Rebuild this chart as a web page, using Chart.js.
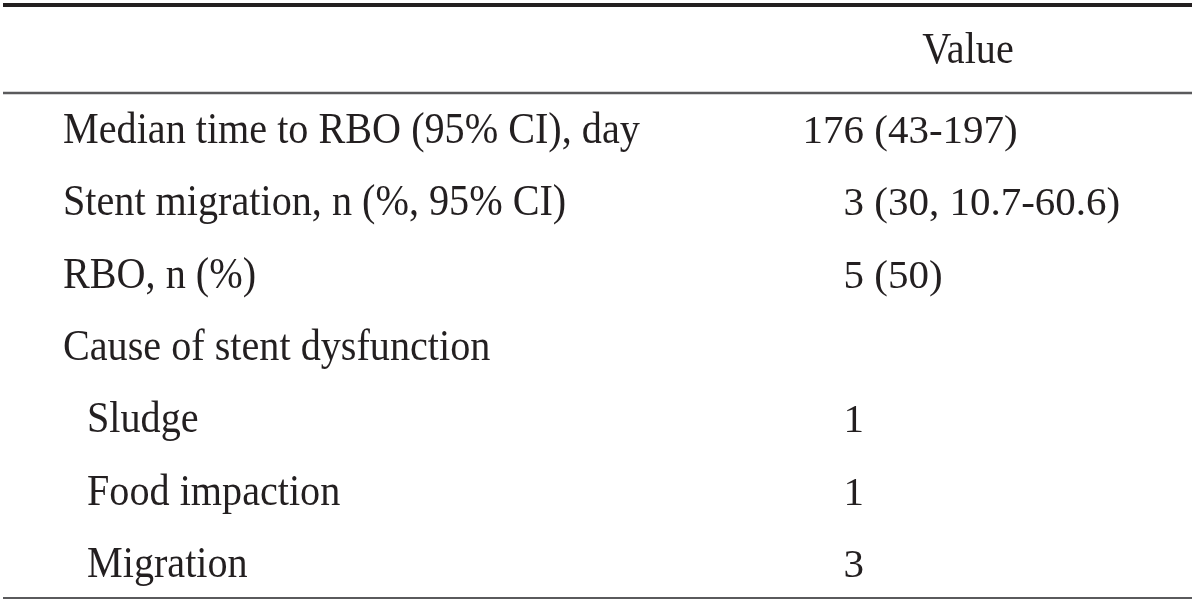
<!DOCTYPE html>
<html>
<head>
<meta charset="utf-8">
<script src="https://cdn.jsdelivr.net/npm/chart.js@4/dist/chart.umd.min.js"></script>
<style>
  html, body { margin: 0; padding: 0; background: #fff; }
  #wrap { width: 1200px; height: 607px; }
</style>
</head>
<body>
<div id="wrap"><canvas id="tableChart" width="1200" height="607"></canvas></div>
<script>
// table content
const columnHeader = 'Value';
const rowLabels = [
    'Median time to RBO (95% CI), day',
    'Stent migration, n (%, 95% CI)',
    'RBO, n (%)',
    'Cause of stent dysfunction',
    'Sludge',
    'Food impaction',
    'Migration'
];
const rowIndent = [0, 0, 0, 0, 1, 1, 1];
const rowValues = ['176 (43-197)', '3 (30, 10.7-60.6)', '5 (50)', '', '1', '1', '3'];

const TEXT = '#231f20';
const RULE = '#5a5a5c';
const LABEL_FONT = '44px "Liberation Serif", "Times New Roman", serif';
const VALUE_FONT = '41px "Liberation Serif", "Times New Roman", serif';
const SQUEEZE = 0.913; // labels are set in a condensed face

function narrowText(ctx, text, x, y, align) {
    ctx.save();
    ctx.translate(x, y);
    ctx.scale(SQUEEZE, 1);
    ctx.textAlign = align;
    ctx.fillText(text, 0, 0);
    ctx.restore();
}

// draws the rules, header and cells on top of the (invisible) scales
const tablePlugin = {
    id: 'tablePlugin',
    afterDraw(chart) {
        const ctx = chart.ctx;
        const x = chart.scales.x;
        const y = chart.scales.y;
        const area = chart.chartArea;
        const left = x.getPixelForValue(3);
        const right = x.getPixelForValue(1192);

        ctx.save();
        // rules
        ctx.strokeStyle = TEXT;
        ctx.lineWidth = 4;
        ctx.beginPath();
        ctx.moveTo(left, 5);
        ctx.lineTo(right, 5);
        ctx.stroke();

        ctx.strokeStyle = RULE;
        ctx.lineWidth = 2.5;
        ctx.beginPath();
        ctx.moveTo(left, area.top);
        ctx.lineTo(right, area.top);
        ctx.stroke();

        ctx.lineWidth = 2;
        ctx.beginPath();
        ctx.moveTo(left, area.bottom - 1);
        ctx.lineTo(right, area.bottom - 1);
        ctx.stroke();

        // header
        ctx.fillStyle = TEXT;
        ctx.textBaseline = 'alphabetic';
        ctx.font = LABEL_FONT;
        narrowText(ctx, columnHeader, x.getPixelForValue(968), area.top - 30, 'center');

        // rows
        const anchor = x.getPixelForValue(864);
        rowLabels.forEach((label, i) => {
            const base = y.getPixelForValue(i) + 14;
            ctx.font = LABEL_FONT;
            narrowText(ctx, label, x.getPixelForValue(63 + rowIndent[i] * 24), base, 'left');

            const val = rowValues[i];
            if (!val) return;
            const cut = val.indexOf(' ');
            const lead = cut < 0 ? val : val.slice(0, cut);
            const rest = cut < 0 ? '' : val.slice(cut);
            ctx.font = VALUE_FONT;
            ctx.textAlign = 'right';
            ctx.fillText(lead, anchor, base);
            if (rest) {
                ctx.textAlign = 'left';
                ctx.fillText(rest, anchor, base);
            }
        });
        ctx.restore();
    }
};

new Chart(document.getElementById('tableChart'), {
    type: 'bar',
    data: {
        labels: rowLabels,
        datasets: []
    },
    options: {
        responsive: false,
        animation: false,
        indexAxis: 'y',
        layout: { padding: { top: 93, bottom: 8, left: 0, right: 0 } },
        plugins: {
            legend: { display: false },
            tooltip: { enabled: false }
        },
        scales: {
            x: { type: 'linear', min: 0, max: 1200, display: false },
            y: { type: 'category', offset: true, display: false }
        }
    },
    plugins: [tablePlugin]
});
</script>
</body>
</html>
